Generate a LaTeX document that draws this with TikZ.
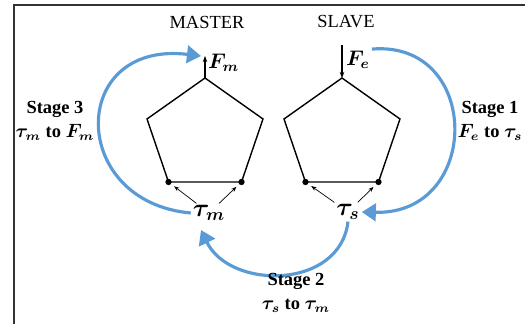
\documentclass[tikz,border=0pt]{standalone}
\usepackage{amsmath}
\usepackage{fontspec}
\setmainfont{Liberation Serif}
\usetikzlibrary{arrows.meta}
\definecolor{stageblue}{HTML}{5B9BD5}

\begin{document}
\begin{tikzpicture}[x=0.02cm, y=-0.02cm,
  frameline/.style={line width=1pt, draw=black!80},
  body/.style={line width=0.8pt},
  joint/.style={circle, fill=black, inner sep=0pt, minimum size=3.6pt},
  stage/.style={-{Triangle[length=8pt,width=10pt]}, line width=1.8pt, draw=stageblue},
  push/.style={-{Stealth[length=3pt]}, line width=0.4pt, shorten >=2pt},
  force/.style={-{Stealth[length=3.5pt]}, line width=0.6pt},
  heading/.style={font=\fontsize{10.5}{12}\selectfont},
  torque/.style={font=\Large, inner sep=1pt},
  stagetext/.style={font=\fontsize{10.5}{13.5}\selectfont\bfseries, align=center},
]
  \useasboundingbox (0,0) rectangle (525,324);
  % frame, only top and left edges
  \draw[frameline] (14,324) -- (14,5) -- (525,5);

  % the two manipulators
  \foreach \r/\cx in {m/205,s/342}{
    \coordinate (\r-top) at (\cx,78);
    \coordinate (\r-left) at (\cx-58,119);
    \coordinate (\r-right) at (\cx+58,119);
    \coordinate (\r-bl) at (\cx-36.5,182);
    \coordinate (\r-br) at (\cx+36.5,182);
    \draw[body] (\r-top) -- (\r-right) -- (\r-br) -- (\r-bl) -- (\r-left) -- cycle;
    \node[joint] (\r-jl) at (\r-bl) {};
    \node[joint] (\r-jr) at (\r-br) {};
  }
  \node[heading] (master) at (207,22) {MASTER};
  \node[heading] (slave) at (346,22) {SLAVE};

  % joint torques
  \node[torque] (taum) at (209,213) {$\boldsymbol{\tau_m}$};
  \node[torque] (taus) at (348,212) {$\boldsymbol{\tau_s}$};
  \draw[push] (taum) -- (m-jl);
  \draw[push] (taum) -- (m-jr);
  \draw[push] (taus) -- (s-jl);
  \draw[push] (taus) -- (s-jr);

  % end-effector forces
  \coordinate (fmtip) at (205,56);
  \draw[force] (m-top) -- (fmtip);
  \node[anchor=west, inner sep=1pt, font=\large] (fm) at (206,63) {$\boldsymbol{F_m}$};
  \coordinate (fetail) at (342,45);
  \draw[force] (fetail) -- (s-top);
  \node[anchor=west, inner sep=1pt, font=\large] (fe) at (344,60) {$\boldsymbol{F_e}$};

  % stages
  \coordinate (s3end) at (201,56);
  \coordinate (s2end) at (201,230);
  \draw[stage] (fe.north east) .. controls (482,40) and (482,215) .. (taus.east);
  \draw[stage] (taus.south) .. controls (340,290) and (230,290) .. (s2end);
  \draw[stage] (taum.west) .. controls (68,202) and (68,40) .. (s3end);

  \node[stagetext] (st1) at (490,121) {Stage 1\\$\boldsymbol{F_e}$ to $\boldsymbol{\tau_s}$};
  \node[stagetext] (st2) at (296,293) {Stage 2\\$\boldsymbol{\tau_s}$ to $\boldsymbol{\tau_m}$};
  \node[stagetext] (st3) at (55,121) {Stage 3\\$\boldsymbol{\tau_m}$ to $\boldsymbol{F_m}$};
\end{tikzpicture}
\end{document}
